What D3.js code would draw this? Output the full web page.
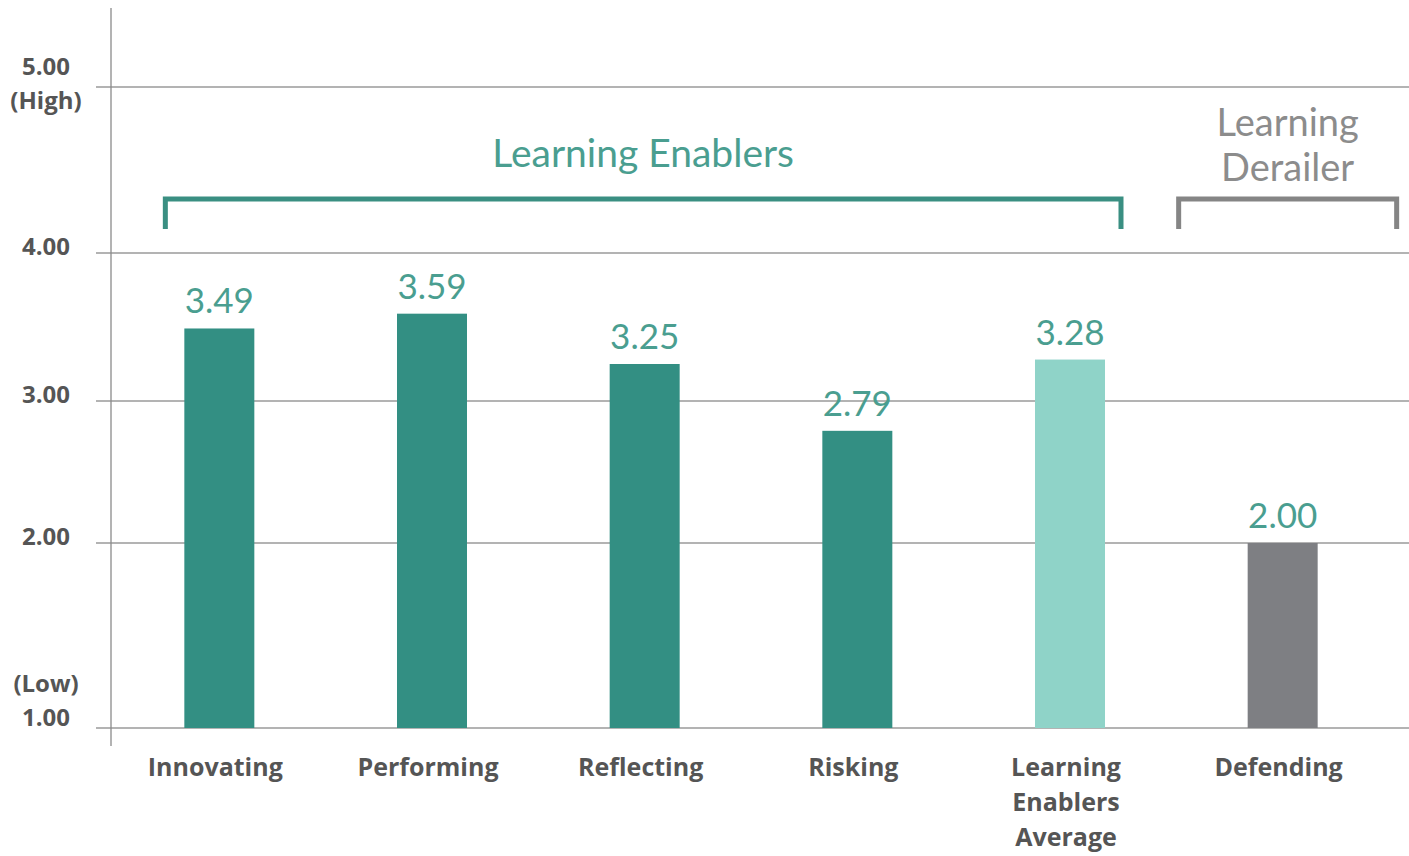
<!DOCTYPE html>
<html><head><meta charset="utf-8">
<script src="https://cdn.jsdelivr.net/npm/d3@7"></script>
<style>body{margin:0;background:#fff}svg{display:block}</style>
</head><body>
<svg id="c" width="1409" height="856"></svg>
<script>
const categories = ["Innovating","Performing","Reflecting","Risking","Learning Enablers Average","Defending"];
const categoryLines = [["Innovating"],["Performing"],["Reflecting"],["Risking"],["Learning","Enablers","Average"],["Defending"]];
const values = [3.49, 3.59, 3.25, 2.79, 3.28, 2.00];
const barKinds = ["enabler","enabler","enabler","enabler","average","derailer"];
const yTicks = [1, 2, 3, 4, 5];
const yTickLabels = [["(Low)","1.00"],["2.00"],["3.00"],["4.00"],["5.00","(High)"]];
const groups = [{name:["Learning Enablers"], from:0, to:4, kind:"enabler"},
                {name:["Learning","Derailer"], from:5, to:5, kind:"derailer"}];

const colors = {enabler:"#338f83", average:"#8fd3c8", derailer:"#7e7f83"};
const groupColors = {enabler:"#3a8f82", derailer:"#858585"};
const groupText = {enabler:"#4a9e90", derailer:"#8c8c8c"};

const svg = d3.select("#c");
const W = 1409;
const y = d3.scaleLinear().domain(yTicks).range([728, 543, 401, 253, 87]);
const x = d3.scalePoint().domain(categories).range([113, 1389]).padding(0.5);
const barW = 70;

// gridlines
svg.append("g").selectAll("line").data(yTicks).join("line")
  .attr("x1", 96).attr("x2", W).attr("y1", d => y(d)).attr("y2", d => y(d))
  .attr("stroke", "#9a9a9a").attr("stroke-width", 1.3);
// vertical axis
svg.append("line").attr("x1", 111).attr("x2", 111).attr("y1", 8).attr("y2", 746)
  .attr("stroke", "#8a8a8a").attr("stroke-width", 1.3);

// y tick labels
const tl = svg.append("g").attr("font-family", "'Open Sans', sans-serif").attr("font-weight", 700)
  .attr("font-size", 24).attr("fill", "#555").attr("text-anchor", "middle");
yTicks.forEach((t, i) => {
  const lines = yTickLabels[i];
  let base;
  if (t === 5) base = y(t) - 12;
  else if (t === 1) base = y(t) - 36;
  else base = y(t) + 2;
  lines.forEach((s, j) => {
    tl.append("text").attr("x", 46).attr("y", base + j * 34).text(s);
  });
});

// bars
svg.append("g").selectAll("rect").data(categories).join("rect")
  .attr("x", d => x(d) - barW / 2).attr("width", barW)
  .attr("y", (d, i) => y(values[i])).attr("height", (d, i) => y(1) - y(values[i]))
  .attr("fill", (d, i) => colors[barKinds[i]]);

// value labels
svg.append("g").selectAll("text").data(categories).join("text")
  .attr("x", d => x(d)).attr("y", (d, i) => y(values[i]) - 15)
  .attr("text-anchor", "middle").attr("font-family", "Lato, sans-serif").attr("font-size", 35)
  .attr("fill", "#4a9e90").text((d, i) => values[i].toFixed(2));

// category labels
const cl = svg.append("g").attr("font-family", "'Open Sans', sans-serif").attr("font-weight", 700)
  .attr("font-size", 25).attr("fill", "#555").attr("text-anchor", "middle");
categories.forEach((c, i) => {
  categoryLines[i].forEach((s, j) => {
    cl.append("text").attr("x", x(c) - 4).attr("y", 776 + j * 35).text(s);
  });
});

// group brackets
groups.forEach(g => {
  const x0 = g.kind === "enabler" ? x(categories[g.from]) - 54 : x(categories[g.from]) - 104;
  const x1 = g.kind === "enabler" ? x(categories[g.to]) + 51 : x(categories[g.to]) + 114;
  svg.append("path").attr("d", `M${x0},229V199H${x1}V229`).attr("fill", "none")
    .attr("stroke", groupColors[g.kind]).attr("stroke-width", 5);
  const cx = (x0 + x1) / 2;
  const fs = g.name.length === 1 ? 39 : 38;
  const baseY = g.name.length === 1 ? 167 : 136;
  g.name.forEach((s, j) => svg.append("text").attr("text-anchor", "middle").attr("font-family", "Lato, sans-serif")
    .attr("font-size", fs).attr("fill", groupText[g.kind])
    .attr("x", cx).attr("y", baseY + j * 45).text(s));
});
</script>
</body></html>
